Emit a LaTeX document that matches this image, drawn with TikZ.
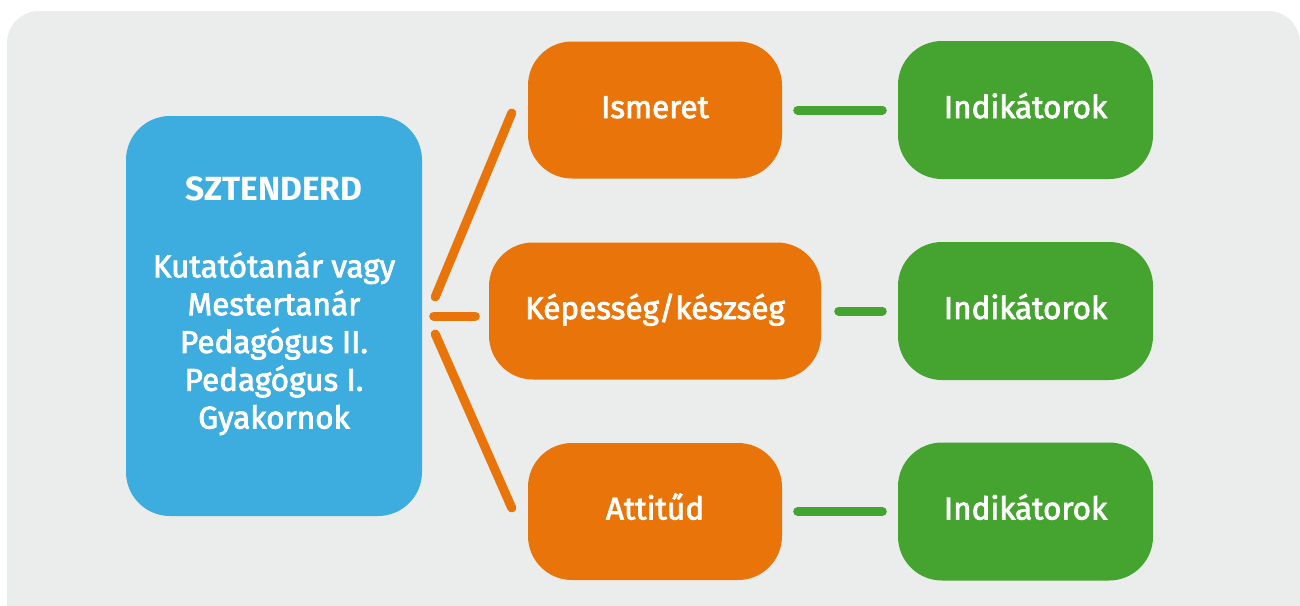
\documentclass[tikz,border=0pt]{standalone}
\usepackage{fontspec}
\setmainfont{Fira Sans}
\newfontfamily\medfont{Fira Sans}[FakeBold=2.5]
\usetikzlibrary{calc}
\definecolor{bggray}{HTML}{EBECEC}
\definecolor{skyblue}{HTML}{3DACDE}
\definecolor{orng}{HTML}{E97409}
\definecolor{grn}{HTML}{45A330}
\tikzset{
  box/.style={rectangle, rounded corners=44pt, text=white, inner sep=0pt, align=center, font=\medfont\fontsize{31.5}{36}\selectfont, text height=24pt, text depth=8pt},
  bluebox/.style={box, fill=skyblue, minimum width=296pt, minimum height=400pt},
  orangebox/.style={box, fill=orng, minimum width=254pt, minimum height=137pt},
  widebox/.style={orangebox, minimum width=332pt},
  greenbox/.style={box, fill=grn, minimum width=255pt, minimum height=138pt},
  oline/.style={draw=orng, line width=9pt, line cap=round},
  gline/.style={draw=grn, line width=9pt, line cap=round},
}
\begin{document}
\begin{tikzpicture}[x=1pt, y=-1pt]
\useasboundingbox (0,0) rectangle (1300,605);
\begin{scope}
\clip (0,0) rectangle (1300,605);
\fill[bggray, rounded corners=32pt] (7,11) rectangle (1300,660);
\end{scope}
\node[bluebox] (sz) at (274,316) {};
\node[text=white, align=center, font=\medfont\fontsize{31.5}{37.8}\selectfont, inner sep=0pt] (sztext) at (274,306)
  {{\normalfont\bfseries\fontsize{33.5}{37.8}\selectfont SZTENDERD}\\[39pt]Kutatótanár vagy\\Mestertanár\\Pedagógus II.\\Pedagógus I.\\Gyakornok};
\node[orangebox] (ism) at (655,110) {Ismeret};
\node[widebox] (kep) at (655,311) {Képesség/készség};
\node[orangebox] (att) at (655,511.5) {Attitűd};
\node[greenbox] (ind1) at (1025.5,110) {Indikátorok};
\node[greenbox] (ind2) at (1025.5,311) {Indikátorok};
\node[greenbox] (ind3) at (1025.5,511.5) {Indikátorok};
\draw[oline] ($(sz.east)+(13,-19)$) -- ($(ism.west)+(-16,3)$);
\draw[oline] ($(sz.east)+(11.5,0)$) -- ($(kep.west)+(-13.5,5)$);
\draw[oline] ($(sz.east)+(13,18)$) -- ($(att.west)+(-16,-3.5)$);
\draw[gline] ($(ism.east)+(15.5,0)$) -- ($(ind1.west)+(-15.5,0)$);
\draw[gline] ($(kep.east)+(17.5,0)$) -- ($(ind2.west)+(-15.5,0)$);
\draw[gline] ($(att.east)+(15.5,0)$) -- ($(ind3.west)+(-15.5,0)$);
\end{tikzpicture}
\end{document}
